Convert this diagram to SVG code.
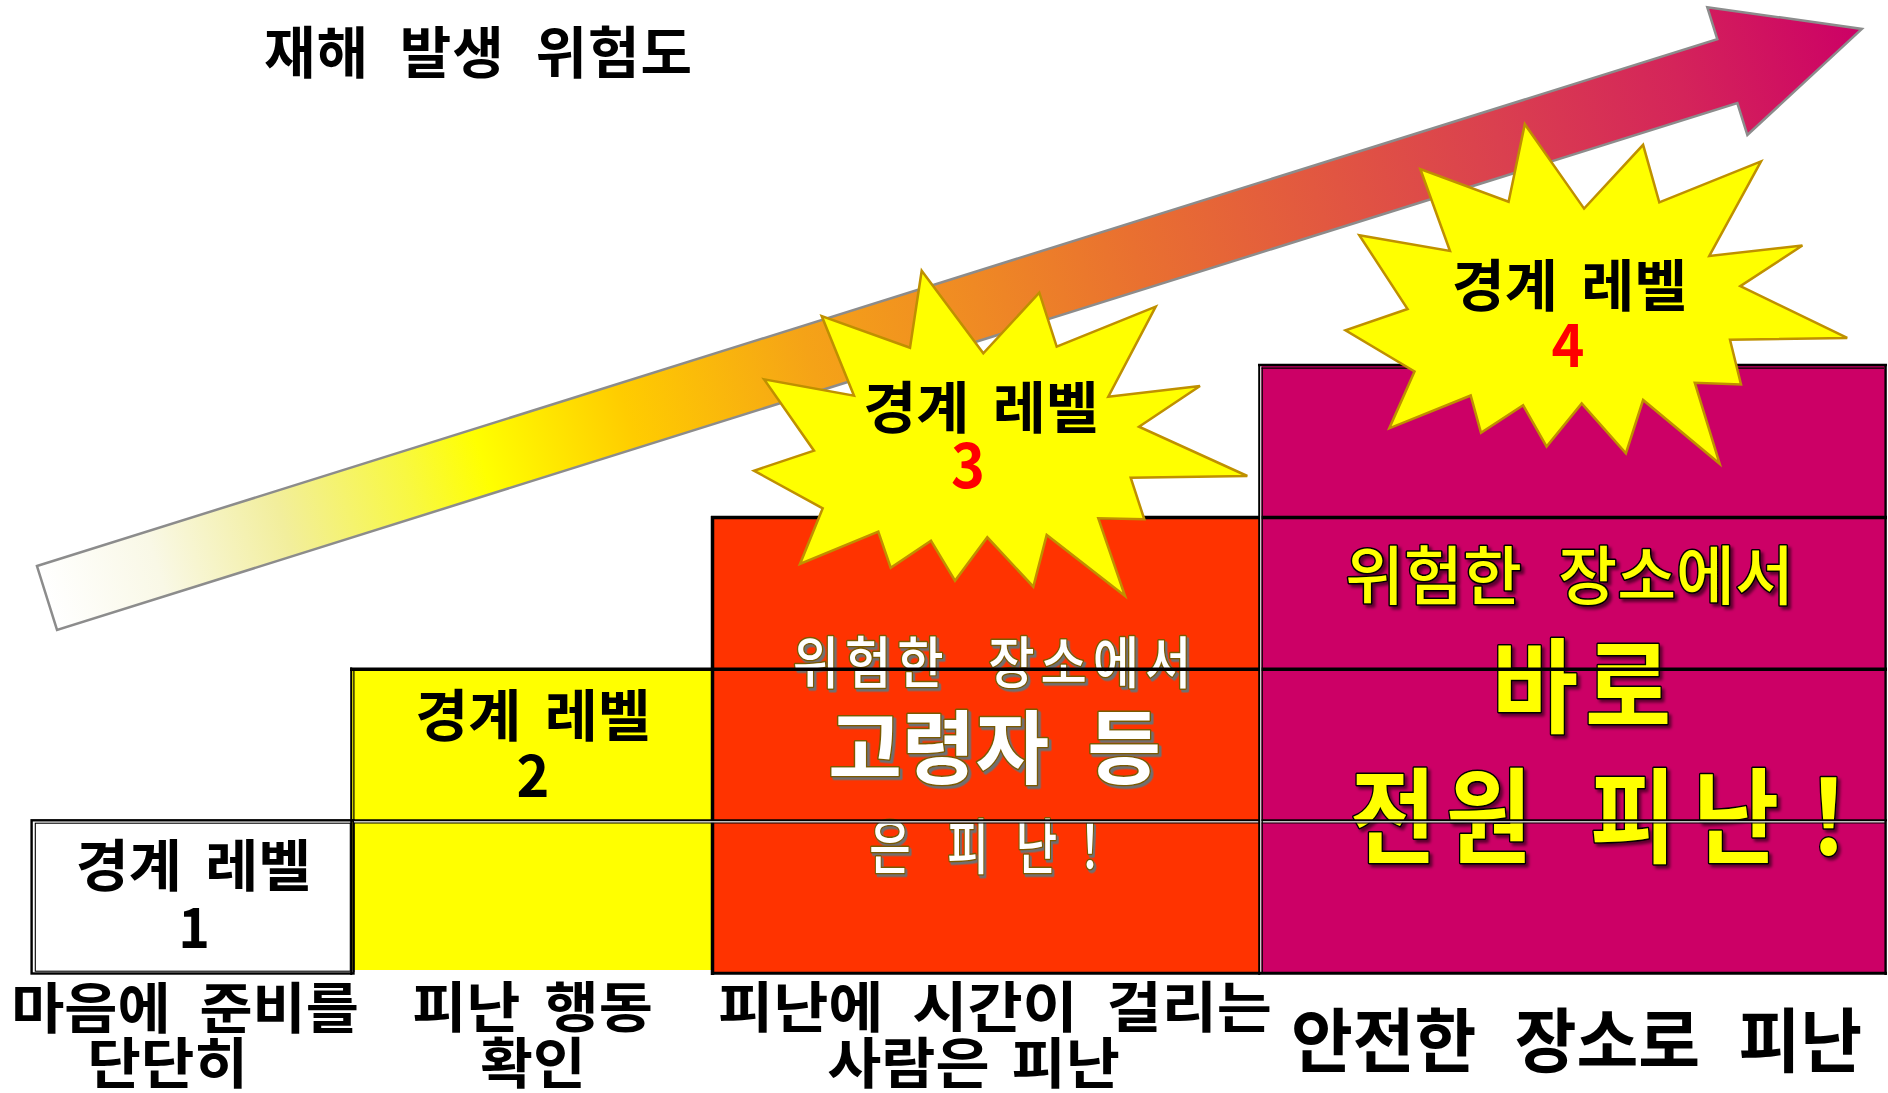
<svg xmlns="http://www.w3.org/2000/svg" width="1888" height="1093" viewBox="0 0 1888 1093">
<style>
text { font-family: "Noto Sans CJK KR", "Noto Sans CJK JP", sans-serif; text-anchor: middle; }
.blk { fill: #000; font-weight: 700; }
.red { fill: #ff0000; font-weight: 700; }
.w3 { fill: #ffffff; stroke: #7a5a00; stroke-width: 3; paint-order: stroke; stroke-linejoin: round; filter: url(#sh3); }
.y4 { fill: #ffff00; stroke: #000000; stroke-width: 3; paint-order: stroke; stroke-linejoin: round; filter: url(#sh4); }
.star { fill: #ffff00; stroke: #bf9000; stroke-width: 2.5; stroke-linejoin: miter; }
.lvl { font-size: 56px; word-spacing: 10px; }
.cap { font-size: 55px; }
.ln { stroke: #000; fill: none; }
.wl { stroke: #fff; fill: none; }
</style>
<defs>
<linearGradient id="arrowGrad" gradientUnits="userSpaceOnUse" x1="0" y1="0" x2="1902" y2="0">
<stop offset="0" stop-color="#ffffff"/>
<stop offset="0.06" stop-color="#f9f8e6"/>
<stop offset="0.13" stop-color="#f2ee9c"/>
<stop offset="0.2" stop-color="#f8f840"/>
<stop offset="0.24" stop-color="#ffff00"/>
<stop offset="0.32" stop-color="#ffcc00"/>
<stop offset="0.42" stop-color="#f5a317"/>
<stop offset="0.5" stop-color="#f08d22"/>
<stop offset="0.6" stop-color="#e97030"/>
<stop offset="0.7" stop-color="#e25840"/>
<stop offset="0.8" stop-color="#da404f"/>
<stop offset="0.9" stop-color="#d4245a"/>
<stop offset="1" stop-color="#cc0066"/>
</linearGradient>
<filter id="sh3" x="-10%" y="-30%" width="125%" height="170%">
<feDropShadow dx="2.5" dy="2.5" stdDeviation="0.6" flood-color="#707070" flood-opacity="1"/>
</filter>
<filter id="sh4" x="-10%" y="-30%" width="125%" height="170%">
<feDropShadow dx="3" dy="3" stdDeviation="1.5" flood-color="#000000" flood-opacity="0.55"/>
</filter>
</defs>

<rect x="0" y="0" width="1888" height="1093" fill="#ffffff"/>

<g id="title">
<text class="blk" transform="translate(478.5,73)" style="font-size:56px;letter-spacing:1px;word-spacing:17px">재해 발생 위험도</text>
</g>

<g id="connectors">
<g id="risk-arrow" transform="translate(47,598) rotate(-17.41)">
<polygon points="0,-33.5 1761,-33.5 1761,-67 1902,0 1761,67 1761,33.5 0,33.5" fill="url(#arrowGrad)" stroke="#8c8c8c" stroke-width="2.5" stroke-linejoin="miter"/>
</g>
</g>

<g id="level1">
<rect x="31" y="820" width="323" height="154" fill="#ffffff"/>
<text class="blk lvl" transform="translate(193.5,886) scale(1.03,1)">경계 레벨</text>
<text class="blk" transform="translate(194,948) scale(0.96,1)" style="font-size:56px">1</text>
</g>

<g id="level2">
<rect x="352" y="669" width="361" height="301" fill="#ffff00"/>
<text class="blk lvl" transform="translate(533,736) scale(1.03,1)">경계 레벨</text>
<text class="blk" transform="translate(533,797) scale(0.96,1)" style="font-size:58px">2</text>
</g>

<g id="level3">
<rect x="712" y="517" width="549" height="456" fill="#ff3300"/>
<text class="w3" transform="translate(995,683) scale(0.9,1)" style="font-size:56px;font-weight:500;letter-spacing:6.5px;word-spacing:24px">위험한 장소에서</text>
<text class="w3" transform="translate(994.5,777)" style="font-size:80px;font-weight:700;word-spacing:20px">고령자 등</text>
<text class="w3" transform="scale(0.75,1)" x="1186.7 1238.7 1290.7 1382.1 1453.3" y="869" style="font-size:60px;font-weight:500">은 피난！</text>
</g>

<g id="level4">
<rect x="1260" y="365" width="626" height="608" fill="#cc0066"/>
<text class="y4" transform="translate(1569.5,599)" style="font-size:64px;font-weight:500;word-spacing:22px">위험한 장소에서</text>
<text class="y4" transform="scale(0.9,1)" x="1705.6 1808.9" y="725" style="font-size:104px;font-weight:700">바로</text>
<text class="y4" transform="scale(0.9,1)" x="1547.8 1654.4 1734.4 1814.4 1928.9 2031.7" y="855" style="font-size:104px;font-weight:700">전원 피난！</text>
</g>

<g id="grid">
<rect class="ln" x="31.6" y="820.3" width="321.9" height="153.2" stroke-width="2.4"/>
<rect class="ln" x="35.3" y="823.2" width="315" height="148" stroke-width="1.1"/>
<line class="ln" x1="351.2" y1="667.5" x2="351.2" y2="975" stroke-width="2"/>
<line class="ln" x1="353.9" y1="669" x2="353.9" y2="972" stroke-width="1.2"/>
<line class="ln" x1="350" y1="669.3" x2="1887" y2="669.3" stroke-width="3.5"/>
<line class="ln" x1="711" y1="517.5" x2="1887" y2="517.5" stroke-width="3.5"/>
<line class="ln" x1="712.5" y1="516" x2="712.5" y2="975" stroke-width="3.5"/>
<line class="wl" x1="354" y1="821.8" x2="1885" y2="821.8" stroke-width="2"/>
<line class="ln" x1="352" y1="820.3" x2="1887" y2="820.3" stroke-width="2"/>
<line class="ln" x1="354" y1="823" x2="1885" y2="823" stroke-width="1.1"/>
<line class="wl" x1="1260.7" y1="366" x2="1260.7" y2="975" stroke-width="1.4"/>
<line class="ln" x1="1259.2" y1="364" x2="1259.2" y2="975" stroke-width="2"/>
<line class="ln" x1="1262.2" y1="367.5" x2="1262.2" y2="972" stroke-width="1.3"/>
<line class="ln" x1="1258" y1="365" x2="1887" y2="365" stroke-width="2.4"/>
<line class="ln" x1="1261.5" y1="368.2" x2="1884" y2="368.2" stroke-width="1.2"/>
<line class="ln" x1="1885.6" y1="364" x2="1885.6" y2="975" stroke-width="2.4"/>
<line class="ln" x1="711" y1="973.3" x2="1887" y2="973.3" stroke-width="3"/>
</g>

<g id="star3">
<polygon class="star" points="921.7,270.7 983.3,353.3 1039.3,292.7 1056.7,346.7 1155.7,306.7 1108.3,396.7 1200,386 1139,426.7 1247.3,476 1130.7,477.7 1144.3,519.3 1098.3,518.3 1125,596 1046.7,535 1033.3,586.7 987.3,537.3 955,580.7 931,540.7 890.7,567.7 878.3,531.7 800,564 822.7,508.3 754,470.7 814,450.7 764,379.3 854,395.7 821.7,316 910,347.7"/>
<text class="blk lvl" transform="translate(981,428) scale(1.03,1)">경계 레벨</text>
<text class="red" transform="translate(968,488) scale(0.93,1)" style="font-size:62px">3</text>
</g>

<g id="star4">
<polygon class="star" points="1524.8,124.1 1584.1,208.6 1643.1,144.8 1659.3,202.4 1761,161.4 1709.3,255.9 1802.4,245.5 1740.3,286.2 1847.2,337.9 1730,339.7 1741,384.5 1694.8,382.8 1719.7,463.8 1643.1,400 1625.9,453.4 1581.7,403.4 1546.6,446.6 1523.1,405.2 1481,432.8 1470.7,395.5 1389.3,428.3 1414.5,371.4 1345.5,330.3 1407.6,309 1359.3,235.2 1450,251 1420.3,169 1508.6,201.7"/>
<text class="blk lvl" transform="translate(1569.5,306) scale(1.03,1)">경계 레벨</text>
<text class="red" transform="translate(1568,367) scale(0.93,1)" style="font-size:60px">4</text>
</g>

<g id="captions">
<text class="blk cap" transform="translate(185,1028) scale(1.05,1)" style="word-spacing:15px">마음에 준비를</text>
<text class="blk cap" transform="translate(167.6,1083) scale(1.06,1)">단단히</text>
<text class="blk cap" transform="translate(532.5,1027) scale(1.07,1)" style="word-spacing:10px">피난 행동</text>
<text class="blk cap" transform="translate(533,1083) scale(1.04,1)">확인</text>
<text class="blk cap" transform="translate(995,1027) scale(1.09,1)" style="word-spacing:14px">피난에 시간이 걸리는</text>
<text class="blk cap" transform="translate(973.5,1083) scale(1.07,1)" style="word-spacing:8px">사람은 피난</text>
<text class="blk" transform="translate(1576.5,1067) scale(0.96,1)" style="font-size:70px;word-spacing:24px">안전한 장소로 피난</text>
</g>
</svg>
